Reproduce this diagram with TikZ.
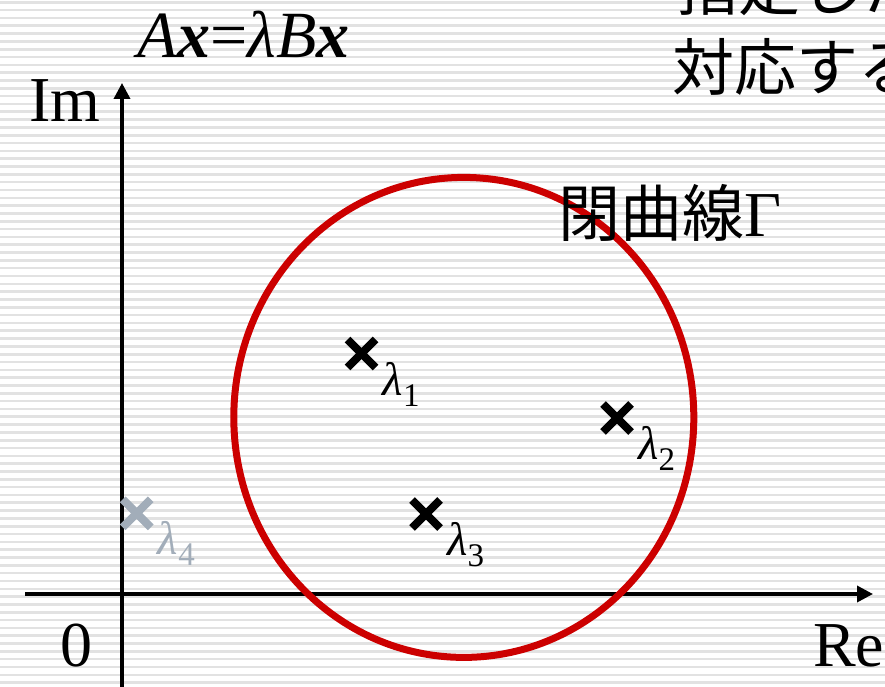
\documentclass[tikz,border=0pt]{standalone}
\usepackage{fontspec}
\setmainfont{Liberation Serif}
\newfontfamily\cjk{Noto Sans CJK JP}
\usetikzlibrary{arrows.meta,calc}
\definecolor{stripe}{HTML}{E2E2E2}
\definecolor{cred}{HTML}{CC0000}
\definecolor{lgray}{HTML}{A2ADB9}
\tikzset{
  axis/.style={line width=3.5pt,-{Triangle[length=16pt,width=16pt]}},
  eigcross/.style={line width=8pt},
  lab/.style={anchor=base west,inner sep=0pt,font=\fontsize{64}{64}\selectfont},
  lamlab/.style={anchor=base west,inner sep=0pt,font=\fontsize{47}{47}\selectfont\itshape},
  jp/.style={anchor=base west,inner sep=0pt,font=\fontsize{62}{62}\selectfont\cjk},
}
\newcommand\eigmark[3]{% name, x, y
  \coordinate (#1) at (#2,#3);
  \draw[eigcross,#1col] ($(#1)+(-14,-14)$) -- ($(#1)+(14,14)$);
  \draw[eigcross,#1col] ($(#1)+(-14,14)$) -- ($(#1)+(14,-14)$);
}
\colorlet{l1col}{black}
\colorlet{l2col}{black}
\colorlet{l3col}{black}
\colorlet{l4col}{lgray}
\begin{document}
\begin{tikzpicture}[x=1pt,y=-1pt]
\useasboundingbox (0,0) rectangle (885,687);
\fill[white] (0,0) rectangle (885,687);
\foreach \i in {0,...,88} \fill[stripe] (0,{1+\i*7.82}) rectangle ++(885,2.6);
\clip (0,0) rectangle (885,687);
% top text (cut off by the picture edge, as in the reference)
\node[jp] (t1) at (676,11) {指定した};
\node[jp] (t2) at (672,91) {対応する};
% equation
\node[lab,font=\fontsize{66}{66}\selectfont] (eq) at (137,58) {\textit{A}\textbf{\textit{x}}=\textit{λB}\textbf{\textit{x}}};
% axes
\coordinate (yb) at (122,690);
\coordinate (yt) at (122,83);
\coordinate (xl) at (25,594);
\coordinate (xr) at (873,594);
\draw[axis] (xl) -- (xr);
\draw[axis] (yb) -- (yt);
\node[lab] (im) at (29,122) {Im};
\node[lab] (zero) at (60,666) {0};
\node[lab] (re) at (813,666) {Re};
% contour
\draw[cred,line width=7pt] (463.8,417.4) ellipse [x radius=230, y radius=240];
\node[jp] (gam) at (558,236) {閉曲線\fontspec{Liberation Serif}\fontsize{64}{64}\selectfont Γ};
% eigenvalues
\eigmark{l1}{361.5}{353.5}
\eigmark{l2}{617}{418}
\eigmark{l3}{426}{514}
\eigmark{l4}{136.7}{513.3}
\node[lamlab] (n1) at ($(l1)+(21,41.5)$) {λ\raisebox{-11pt}{\upshape\fontsize{33}{33}\selectfont 1}};
\node[lamlab] (n2) at ($(l2)+(21,41.5)$) {λ\raisebox{-11pt}{\upshape\fontsize{33}{33}\selectfont 2}};
\node[lamlab] (n3) at ($(l3)+(21,41.5)$) {λ\raisebox{-11pt}{\upshape\fontsize{33}{33}\selectfont 3}};
\node[lamlab,text=lgray] (n4) at ($(l4)+(21,41.5)$) {λ\raisebox{-11pt}{\upshape\fontsize{33}{33}\selectfont 4}};
\end{tikzpicture}
\end{document}
